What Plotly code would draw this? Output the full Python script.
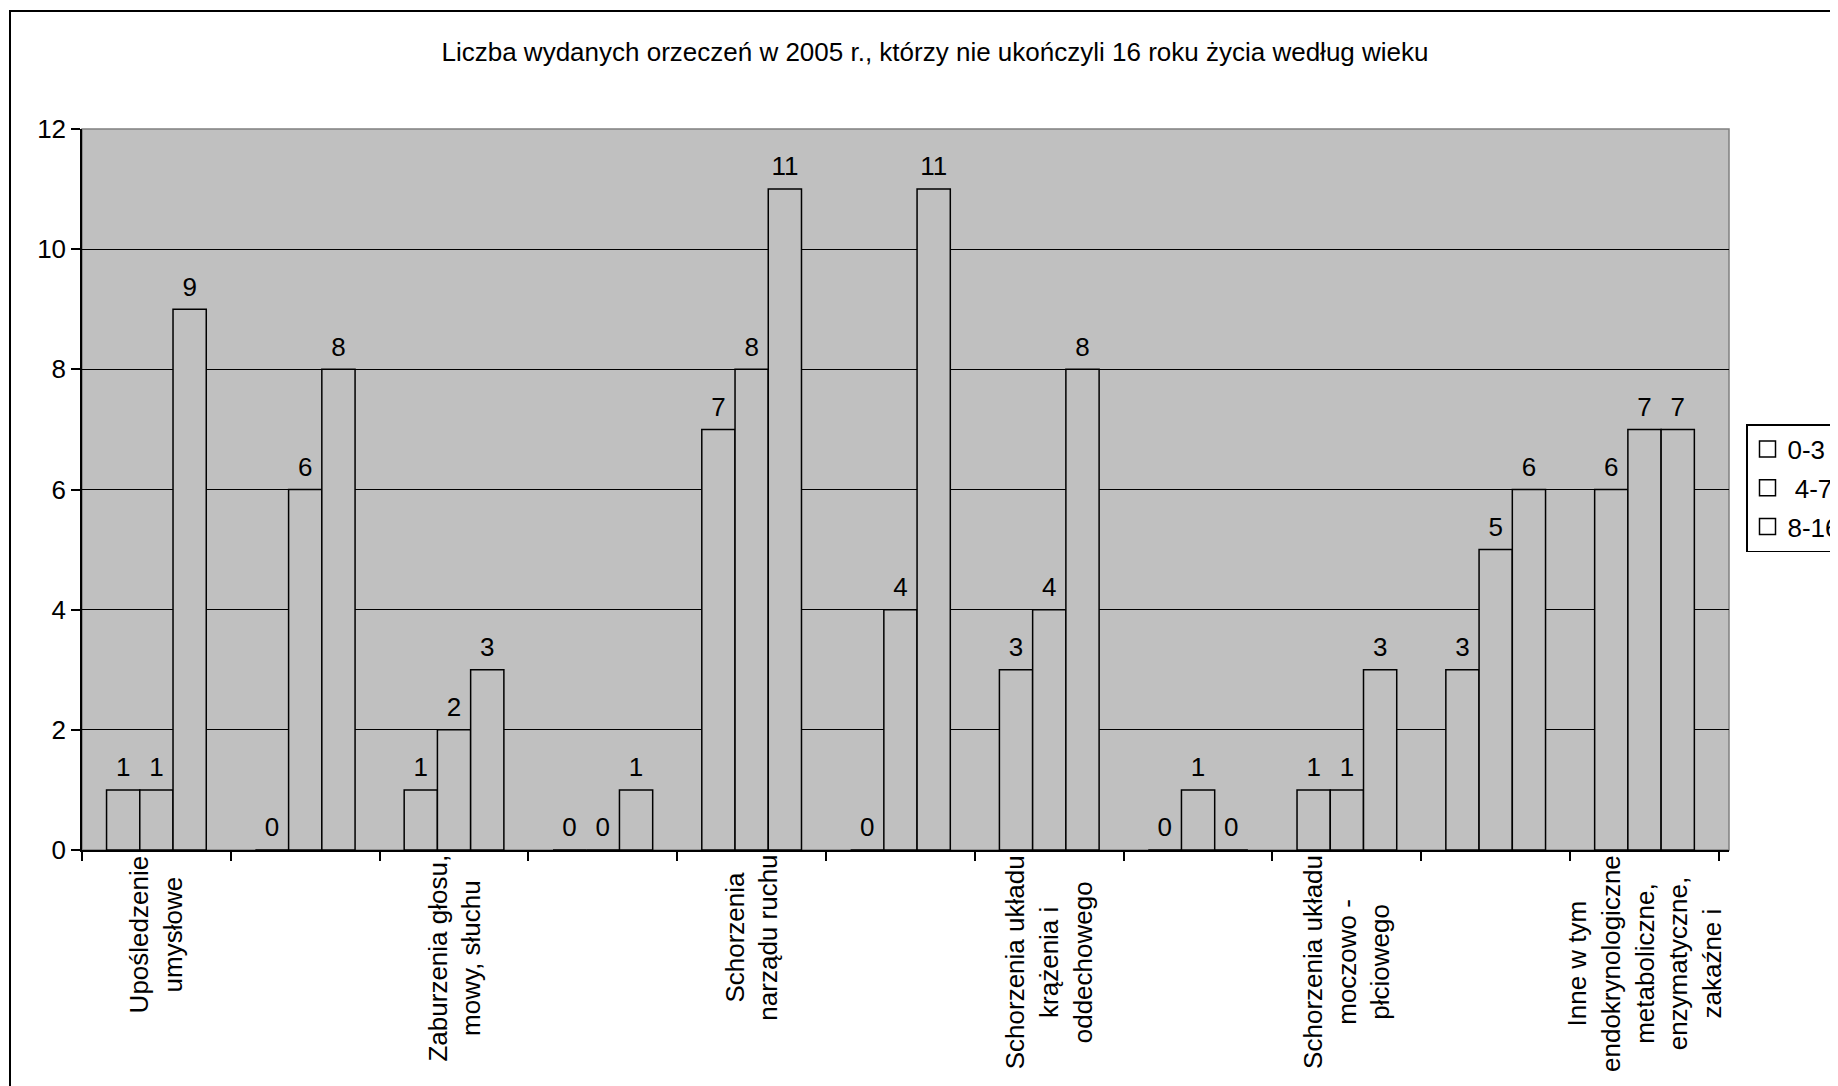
import plotly.graph_objects as go

# ---- data ----
categories = [
    "Upośledzenie umysłowe",
    "Choroby narządu wzroku",
    "Zaburzenia głosu, mowy, słuchu",
    "Choroby psychiczne",
    "Schorzenia narządu ruchu",
    "Epilepsja",
    "Schorzenia układu krążenia i oddechowego",
    "Schorzenia układu pokarmowego",
    "Schorzenia układu moczowo - płciowego",
    "Choroby neurologiczne",
    "Inne w tym endokrynologiczne metaboliczne, enzymatyczne, zakaźne i",
]
tick_labels = [
    "Upośledzenie<br>umysłowe",
    "",
    "Zaburzenia głosu,<br>mowy, słuchu",
    "",
    "Schorzenia<br>narządu ruchu",
    "",
    "Schorzenia układu<br>krążenia i<br>oddechowego",
    "",
    "Schorzenia układu<br>moczowo -<br>płciowego",
    "",
    "Inne w tym<br>endokrynologiczne<br>metaboliczne,<br>enzymatyczne,<br>zakaźne i",
]
series_names = ["0-3", " 4-7", "8-16"]
age_0_3 = [1, 0, 1, 0, 7, 0, 3, 0, 1, 3, 6]
age_4_7 = [1, 6, 2, 0, 8, 4, 4, 1, 1, 5, 7]
age_8_16 = [9, 8, 3, 1, 11, 11, 8, 0, 3, 6, 7]
series_values = [age_0_3, age_4_7, age_8_16]

title_text = "Liczba wydanych orzeczeń w 2005 r., którzy nie ukończyli 16 roku życia według wieku"

FONT = "Liberation Sans, Arial, sans-serif"
FS = 26
GRAY = "#C0C0C0"

W, H = 1838, 1086
OFF = 8  # page body margin offset
L, R, T, B = 82 - OFF, 109 + OFF, 129 - OFF, 236 + OFF
pw = W - L - R
ph = H - T - B

fig = go.Figure()
for i, (name, vals) in enumerate(zip(series_names, series_values)):
    fig.add_trace(go.Bar(
        x=categories, y=vals, name=name, showlegend=False,
        offsetgroup=str(i), alignmentgroup="a",
        marker=dict(color=GRAY, line=dict(color="black", width=1.5)),
    ))
# value labels, grouped like the bars
for i, (name, vals) in enumerate(zip(series_names, series_values)):
    fig.add_trace(go.Scatter(
        x=categories, y=vals, mode="markers+text", showlegend=False,
        offsetgroup=str(i), alignmentgroup="a",
        marker=dict(size=10, color="rgba(0,0,0,0)"),
        text=[str(v) for v in vals], textposition="top center",
        textfont=dict(family=FONT, size=FS, color="black"),
        cliponaxis=False, hoverinfo="skip",
    ))

# legend entries (white squares with black outline)
for i, name in enumerate(series_names):
    fig.add_trace(go.Scatter(
        x=[None], y=[None], mode="markers", name=name,
        legendgroup=f"g{i}",
        marker=dict(symbol="square", size=16, color="white",
                    line=dict(color="black", width=1.5)),
    ))

annotations = []
for cat, lab in zip(categories, tick_labels):
    if lab:
        annotations.append(dict(
            x=cat, xref="x", y=0, yref="paper", yanchor="top", xanchor="center",
            text=lab, textangle=-90, align="center", showarrow=False, yshift=-3,
            font=dict(family=FONT, size=FS, color="black"),
        ))

shapes = [
    dict(type="rect", xref="paper", yref="paper", x0=0, x1=1, y0=0, y1=1,
         line=dict(color="#808080", width=1.5), layer="below"),
    dict(type="rect", xref="paper", yref="paper",
         x0=(10 - OFF - L) / pw, x1=(W + 60 - L) / pw,
         y0=(H - B - (H + 60)) / ph, y1=(H - B - (11 - OFF)) / ph,
         line=dict(color="black", width=2), fillcolor="rgba(0,0,0,0)"),
]

fig.update_layout(
    width=W, height=H,
    margin=dict(l=L, r=R, t=T, b=B, autoexpand=False),
    paper_bgcolor="white", plot_bgcolor=GRAY,
    font=dict(family=FONT, size=FS, color="black"),
    barmode="group", bargap=0.33, bargroupgap=0,
    scattermode="group", scattergap=0.33,
    title=dict(text=title_text, x=(935 - OFF) / W, xref="container", xanchor="center",
               y=1 - (52 - OFF) / H, yref="container", yanchor="middle",
               font=dict(family=FONT, size=FS, color="black")),
    xaxis=dict(type="category", showgrid=False, showline=True, linecolor="black",
               linewidth=1.5, ticks="outside", tickson="boundaries", ticklen=9,
               tickcolor="black", tickwidth=1.5, showticklabels=False,
               zeroline=False),
    yaxis=dict(range=[0, 12], dtick=2, showgrid=True, gridcolor="black",
               gridwidth=1, showline=True, linecolor="black", linewidth=1.5,
               ticks="outside", ticklen=9, tickcolor="black", tickwidth=1.5,
               tickfont=dict(family=FONT, size=FS, color="black"),
               zeroline=False),
    legend=dict(x=(1746 - OFF - L) / pw, xanchor="left", y=(H - B - (424 - OFF)) / ph,
                yanchor="top", bgcolor="white", bordercolor="black",
                borderwidth=1.5, font=dict(family=FONT, size=FS, color="black"),
                tracegroupgap=2, itemwidth=30),
    annotations=annotations,
    shapes=shapes,
)

fig.write_html("out.html")
